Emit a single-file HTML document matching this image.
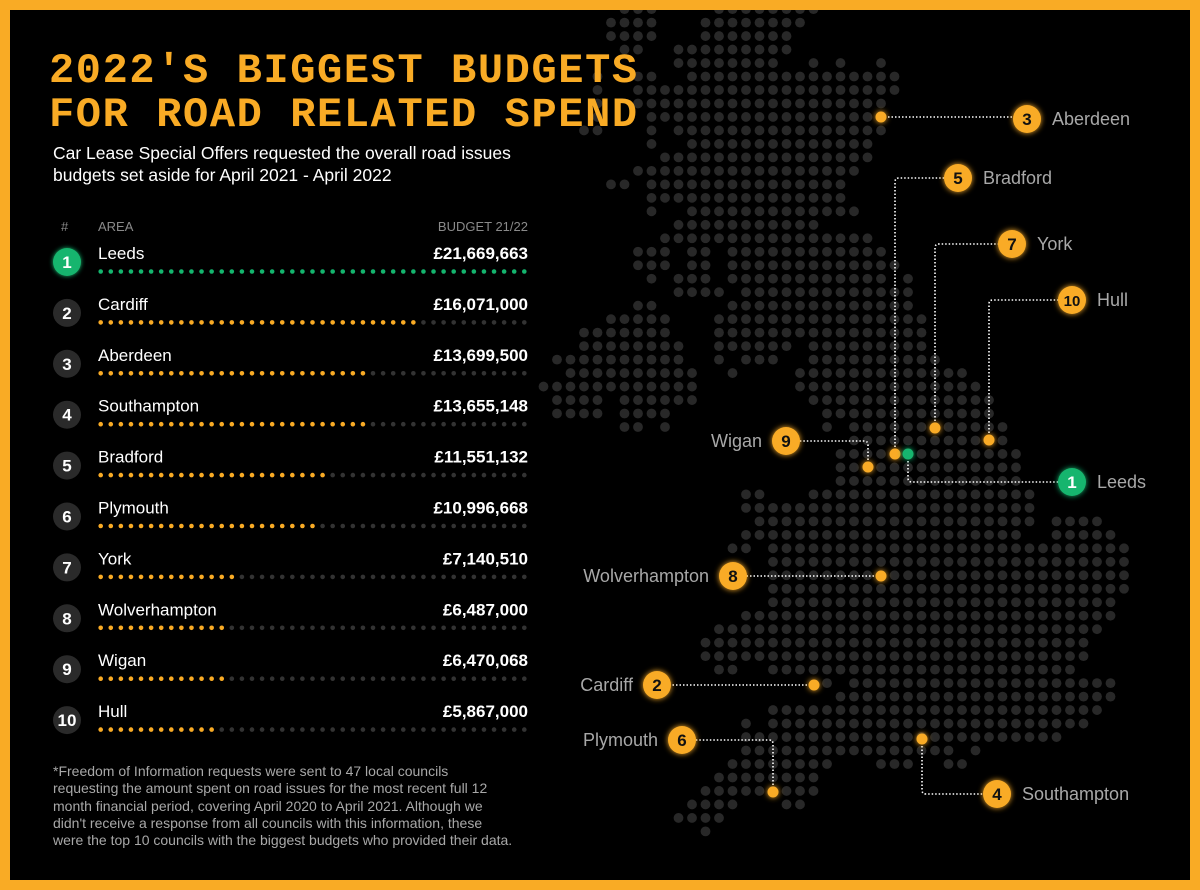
<!DOCTYPE html>
<html><head><meta charset="utf-8"><style>
html,body{margin:0;padding:0;background:#000;}
#root{position:relative;width:1200px;height:890px;background:#000;overflow:hidden;font-family:"Liberation Sans",sans-serif;}
#frame{position:absolute;left:0;top:0;width:1180px;height:870px;border:10px solid #f9ab25;pointer-events:none;z-index:10;}
svg{position:absolute;left:0;top:0;}
.title{position:absolute;left:49px;font-family:"Liberation Mono",monospace;font-weight:bold;font-size:42px;letter-spacing:1.6px;color:#f9ab25;line-height:42px;z-index:5;}
.sub{position:absolute;left:53px;top:142px;font-size:17.5px;color:#fff;line-height:22px;z-index:5;}
.hdr{position:absolute;top:219px;font-size:13px;color:#8a8a8a;}
.foot{position:absolute;left:53px;top:763px;width:460px;font-size:14px;line-height:17.3px;color:#a8a8a8;}
</style></head><body>
<div id="root">
<div id="frame"></div>
<svg id="map" width="1200" height="890"></svg>
<div class="title" style="top:50px">2022'S BIGGEST BUDGETS</div>
<div class="title" style="top:94px">FOR ROAD RELATED SPEND</div>
<div class="sub">Car Lease Special Offers requested the overall road issues<br>budgets set aside for April 2021 - April 2022</div>
<div class="hdr" style="left:61px">#</div>
<div class="hdr" style="left:98px">AREA</div>
<div class="hdr" style="left:380px;width:148px;text-align:right">BUDGET 21/22</div>
<svg id="bars" width="1200" height="890"></svg>
<div class="foot">*Freedom of Information requests were sent to 47 local councils requesting the amount spent on road issues for the most recent full 12 month financial period, covering April 2020 to April 2021. Although we didn't receive a response from all councils with this information, these were the top 10 councils with the biggest budgets who provided their data.</div>
</div>
<script>
const areas=["Leeds","Cardiff","Aberdeen","Southampton","Bradford","Plymouth","York","Wolverhampton","Wigan","Hull"];
const budgets=[21669663,16071000,13699500,13655148,11551132,10996668,7140510,6487000,6470068,5867000];
const budgetLabels=["£21,669,663","£16,071,000","£13,699,500","£13,655,148","£11,551,132","£10,996,668","£7,140,510","£6,487,000","£6,470,068","£5,867,000"];
const NS="http://www.w3.org/2000/svg";
function mk(parent,tag,attrs){const e=document.createElementNS(NS,tag);for(const k in attrs)e.setAttribute(k,attrs[k]);parent.appendChild(e);return e;}
const ORANGE="#f9ab25",GREEN="#14b56e";
const svgB=document.getElementById('bars');
const defs=mk(svgB,'defs',{});
const f=mk(defs,'filter',{id:'glow',x:'-50%',y:'-50%',width:'200%',height:'200%'});
mk(f,'feGaussianBlur',{stdDeviation:'2.5',result:'b'});
const fm=mk(f,'feMerge',{});mk(fm,'feMergeNode',{in:'b'});mk(fm,'feMergeNode',{in:'SourceGraphic'});
const nDots=43,x0=100.7,x1=524.3,maxV=Math.max(...budgets);
function yRow(i){return 262+i*50.9;}
areas.forEach((a,i)=>{
  const y=yRow(i);
  const g=mk(svgB,'g',{});
  
  
  const c=mk(g,'circle',{cx:67,cy:y,r:14,fill:i===0?GREEN:'#2a2a2a'});
  if(i===0)c.setAttribute('filter','url(#glow)');
  
  
  const t=mk(g,'text',{x:67,y:y+6,'text-anchor':'middle','font-size':17,'font-weight':'bold',fill:'#fff','font-family':'Liberation Sans, sans-serif'});
  t.textContent=String(i+1);
  
  
  const n=mk(g,'text',{x:98,y:y-3,'font-size':17,fill:'#fff','font-family':'Liberation Sans, sans-serif'});
  n.textContent=a;
  
  
  const v=mk(g,'text',{x:528,y:y-3,'text-anchor':'end','font-size':17,'font-weight':'bold',fill:'#fff','font-family':'Liberation Sans, sans-serif'});
  v.textContent=budgetLabels[i];
  
  
  const filled=Math.round(budgets[i]/maxV*nDots);
  const col=i===0?GREEN:ORANGE;
  for(let k=0;k<nDots;k++){
    const d=mk(g,'circle',{cx:x0+k*(x1-x0)/(nDots-1),cy:y+9.5,r:2.3,fill:k<filled?col:'#333'});
    
    
  }
});
// map
const mapRows=[[-1,[[6,8],[13,20]]],[0,[[5,8],[12,19]]],[1,[[5,8],[12,18]]],[2,[[6,7],[10,18]]],[3,[[10,17],[20,20],[22,22],[25,25]]],[4,[[4,4],[7,8],[11,26]]],[5,[[4,4],[7,26]]],[6,[[4,4],[7,25]]],[7,[[4,4],[8,24]]],[8,[[3,4],[8,8],[10,24],[25,25]]],[9,[[8,8],[11,24]]],[10,[[9,24]]],[11,[[7,23]]],[12,[[5,6],[8,22]]],[13,[[8,22]]],[14,[[8,8],[11,23]]],[15,[[10,20]]],[16,[[9,24]]],[17,[[7,9],[11,12],[14,25]]],[18,[[7,9],[11,12],[14,26]]],[19,[[8,8],[10,12],[14,25],[27,27]]],[20,[[10,13],[15,27]]],[21,[[7,8],[14,27]]],[22,[[5,9],[13,28]]],[23,[[3,9],[13,28]]],[24,[[3,10],[13,18],[20,28]]],[25,[[1,10],[13,13],[15,17],[20,29]]],[26,[[2,11],[14,14],[19,31]]],[27,[[0,11],[19,32]]],[28,[[1,4],[6,11],[20,33]]],[29,[[1,4],[6,9],[21,33]]],[30,[[6,7],[9,9],[21,21],[23,34]]],[31,[[23,34]]],[32,[[22,35]]],[33,[[22,35]]],[34,[[22,35]]],[35,[[15,16],[20,36]]],[36,[[15,36]]],[37,[[16,36],[38,41]]],[38,[[15,35],[38,42]]],[39,[[14,15],[17,43]]],[40,[[17,43]]],[41,[[17,43]]],[42,[[17,43]]],[43,[[17,42]]],[44,[[15,42]]],[45,[[13,41]]],[46,[[12,40]]],[47,[[12,40]]],[48,[[13,14],[17,39]]],[49,[[21,21],[23,42]]],[50,[[22,42]]],[51,[[17,41]]],[52,[[15,15],[17,40]]],[53,[[15,38]]],[54,[[15,30],[32,32]]],[55,[[14,21],[25,27],[30,31]]],[56,[[13,20]]],[57,[[12,20]]],[58,[[11,14],[18,19]]],[59,[[10,13]]],[60,[[12,12]]]];
const svgM=document.getElementById('map');
const gx=c=>543.5+13.5*c, gy=r=>22.6+13.48*r;
const mg=mk(svgM,'g',{fill:'#282828'});
mapRows.forEach(([r,spans])=>spans.forEach(([a,b])=>{for(let c=a;c<=b;c++){mk(mg,'circle',{cx:gx(c),cy:gy(r),r:4.9});}}));
// callouts
const defs2=mk(svgM,'defs',{});
const f2=mk(defs2,'filter',{id:'glow2',x:'-60%',y:'-60%',width:'220%',height:'220%'});
mk(f2,'feGaussianBlur',{stdDeviation:'3',result:'b'});
const fm2=mk(f2,'feMerge',{});mk(fm2,'feMergeNode',{in:'b'});mk(fm2,'feMergeNode',{in:'SourceGraphic'});
const callouts=[
 {n:3,name:"Aberdeen",dot:[881,117],path:"M881 117 H1027",b:[1027,119],side:'r'},
 {n:5,name:"Bradford",dot:[895,454],path:"M895 454 V182 Q895 178 899 178 H958",b:[958,178],side:'r'},
 {n:7,name:"York",dot:[935,428],path:"M935 428 V248 Q935 244 939 244 H1012",b:[1012,244],side:'r'},
 {n:10,name:"Hull",dot:[989,440],path:"M989 440 V304 Q989 300 993 300 H1072",b:[1072,300],side:'r'},
 {n:9,name:"Wigan",dot:[868,467],path:"M868 467 V445 Q868 441 864 441 H786",b:[786,441],side:'l'},
 {n:1,name:"Leeds",dot:[908,454],path:"M908 454 V478 Q908 482 912 482 H1072",b:[1072,482],side:'r',green:true},
 {n:8,name:"Wolverhampton",dot:[881,576],path:"M881 576 H733",b:[733,576],side:'l'},
 {n:2,name:"Cardiff",dot:[814,685],path:"M814 685 H657",b:[657,685],side:'l'},
 {n:6,name:"Plymouth",dot:[773,792],path:"M773 792 V744 Q773 740 769 740 H682",b:[682,740],side:'l'},
 {n:4,name:"Southampton",dot:[922,739],path:"M922 739 V790 Q922 794 926 794 H997",b:[997,794],side:'r'}
];
callouts.forEach(o=>{
  const g=mk(svgM,'g',{});
  
  
  mk(g,'path',{d:o.path,fill:'none',stroke:'#fff','stroke-width':1.6,'stroke-dasharray':'1.5 2'});
  const col=o.green?GREEN:ORANGE;
  const d=mk(g,'circle',{cx:o.dot[0],cy:o.dot[1],r:5.5,fill:col,filter:'url(#glow2)'});
  
  
  const bc=mk(g,'circle',{cx:o.b[0],cy:o.b[1],r:14,fill:col,filter:'url(#glow2)'});
  
  
  const t=mk(g,'text',{x:o.b[0],y:o.b[1]+6,'text-anchor':'middle','font-size':o.n===10?15:17,'font-weight':'bold',fill:o.green?'#fff':'#111','font-family':'Liberation Sans, sans-serif'});
  t.textContent=String(o.n);
  
  
  const lx=o.side==='r'?o.b[0]+25:o.b[0]-24;
  const l=mk(g,'text',{x:lx,y:o.b[1]+6,'text-anchor':o.side==='r'?'start':'end','font-size':18,fill:'#a8a8a8','font-family':'Liberation Sans, sans-serif'});
  l.textContent=o.name;
  
  
});
</script>
</body></html>
